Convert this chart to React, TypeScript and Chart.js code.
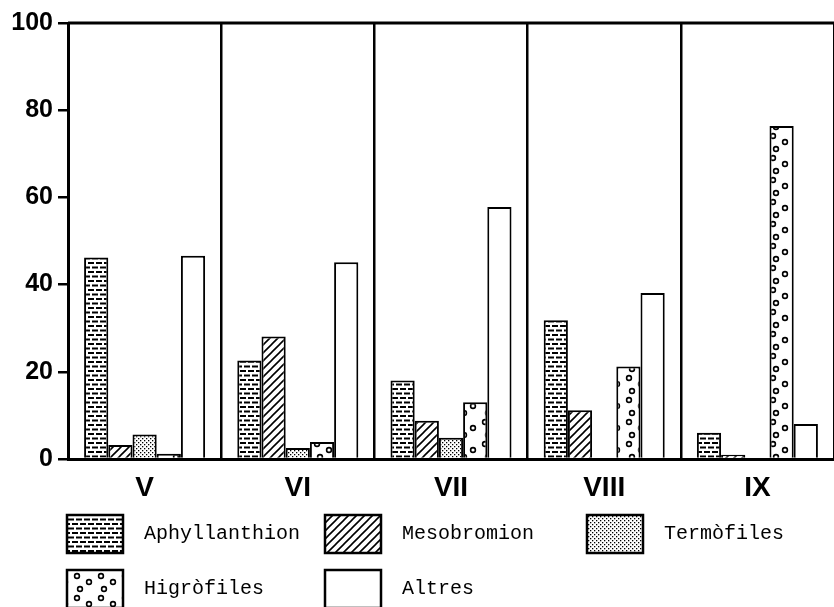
import React, { useEffect, useRef } from 'react';
import { Chart, registerables } from 'chart.js';

Chart.register(...registerables);

const categories = ['V', 'VI', 'VII', 'VIII', 'IX'];
const aphyllanthion = [46.2, 22.6, 18.0, 31.8, 6.0];
const mesobromion = [3.2, 28.1, 8.8, 11.2, 1.0];
const termofiles = [5.6, 2.5, 4.9, 0, 0];
const higrofiles = [1.2, 3.9, 13.0, 21.2, 76.4];
const altres = [46.6, 45.1, 57.8, 38.1, 8.0];
const seriesNames = ['Aphyllanthion', 'Mesobromion', 'Termòfiles', 'Higròfiles', 'Altres'];
const yTickStep = 20;
const yMax = 100;

type Kind = 'dash' | 'diag' | 'dots' | 'rings' | 'blank';
const seriesKinds: Kind[] = ['dash', 'diag', 'dots', 'rings', 'blank'];

function makePattern(kind: Kind): CanvasPattern | string {
  if (kind === 'blank') return '#ffffff';
  const c = document.createElement('canvas');
  let w = 8, h = 8;
  if (kind === 'dash') { w = 8; h = 9; }
  if (kind === 'diag') { w = 8; h = 8; }
  if (kind === 'dots') { w = 4; h = 4; }
  if (kind === 'rings') { w = 24; h = 22; }
  c.width = w; c.height = h;
  const g = c.getContext('2d')!;
  g.fillStyle = '#fff';
  g.fillRect(0, 0, w, h);
  g.fillStyle = '#000';
  g.strokeStyle = '#000';
  if (kind === 'dash') {
    g.fillRect(0, 1, 6, 2);
    g.fillRect(4, 5.5, 4, 2);
    g.fillRect(0, 5.5, 2, 2);
  } else if (kind === 'diag') {
    g.lineWidth = 1.6;
    g.beginPath();
    g.moveTo(-1, 9); g.lineTo(9, -1);
    g.moveTo(-1, 1); g.lineTo(1, -1);
    g.moveTo(7, 9); g.lineTo(9, 7);
    g.stroke();
  } else if (kind === 'dots') {
    g.fillRect(0, 0, 1.3, 1.3);
    g.fillRect(2, 2, 1.3, 1.3);
  } else if (kind === 'rings') {
    g.lineWidth = 1.6;
    const pts = [[5, 4], [17, 10], [8, 17]];
    for (const [x, y] of pts) {
      g.beginPath();
      g.arc(x, y, 2.4, 0, Math.PI * 2);
      g.stroke();
    }
  }
  return g.createPattern(c, 'repeat')!;
}

export default function App() {
  const ref = useRef<HTMLCanvasElement | null>(null);

  useEffect(() => {
    const canvas = ref.current;
    if (!canvas) return;
    const fills = seriesKinds.map(makePattern);
    const values = [aphyllanthion, mesobromion, termofiles, higrofiles, altres];

    const frameTop = {
      id: 'frameTop',
      afterDraw(chart: any) {
        const { ctx, chartArea } = chart;
        ctx.save();
        ctx.strokeStyle = '#000';
        ctx.lineWidth = 3;
        ctx.beginPath();
        ctx.moveTo(chartArea.left, chartArea.top);
        ctx.lineTo(chartArea.right, chartArea.top);
        ctx.stroke();
        ctx.restore();
      },
    };

    const gridLegend = {
      id: 'gridLegend',
      afterDraw(chart: any) {
        const { ctx } = chart;
        const cols = [67, 325, 587];
        const rows = [515, 570];
        const bw = 56, bh = 38;
        ctx.save();
        ctx.font = '20px "Liberation Mono", monospace';
        ctx.textBaseline = 'middle';
        ctx.textAlign = 'left';
        seriesNames.forEach((name, i) => {
          const x = cols[i % 3];
          const y = rows[Math.floor(i / 3)];
          ctx.fillStyle = fills[i] as any;
          ctx.fillRect(x, y, bw, bh);
          ctx.strokeStyle = '#000';
          ctx.lineWidth = 2.5;
          ctx.strokeRect(x, y, bw, bh);
          ctx.fillStyle = '#000';
          ctx.fillText(name, x + bw + 21, y + bh / 2);
        });
        ctx.restore();
      },
    };

    const chart = new Chart(canvas, {
      type: 'bar',
      data: {
        labels: categories,
        datasets: values.map((v, i) => ({
          label: seriesNames[i],
          data: v,
          backgroundColor: fills[i] as any,
          borderColor: '#000',
          borderWidth: 2,
          categoryPercentage: 0.79,
          barPercentage: 1.0,
        })),
      },
      options: {
        animation: false,
        responsive: false,
        devicePixelRatio: 1,
        layout: { padding: { top: 23, left: 0, right: 0, bottom: 100 } },
        plugins: { legend: { display: false }, tooltip: { enabled: false } },
        scales: {
          x: {
            offset: true,
            grid: {
              display: true,
              offset: true,
              drawOnChartArea: true,
              drawTicks: false,
              color: '#000',
              lineWidth: 2.5,
            },
            border: { display: true, color: '#000', width: 3 },
            ticks: {
              color: '#000',
              padding: 12,
              font: { family: '"Liberation Sans", Arial, sans-serif', size: 28, weight: 'bold' },
            },
            afterFit: (s: any) => { s.height = 48; },
          },
          y: {
            min: 0,
            max: yMax,
            ticks: {
              stepSize: yTickStep,
              color: '#000',
              padding: 5,
              font: { family: '"Liberation Sans", Arial, sans-serif', size: 25, weight: 'bold' },
            },
            grid: {
              drawOnChartArea: false,
              drawTicks: true,
              tickLength: 10,
              color: '#000',
              lineWidth: 2.5,
            },
            border: { display: true, color: '#000', width: 3 },
            afterFit: (s: any) => { s.width = 68; },
          },
        },
      } as any,
      plugins: [frameTop, gridLegend],
    });
    return () => chart.destroy();
  }, []);

  return (
    <div style={{ position: 'fixed', left: 0, top: 0, width: 834, height: 607, background: '#fff' }}>
      <canvas ref={ref} width={834} height={607} style={{ display: 'block' }} />
    </div>
  );
}
